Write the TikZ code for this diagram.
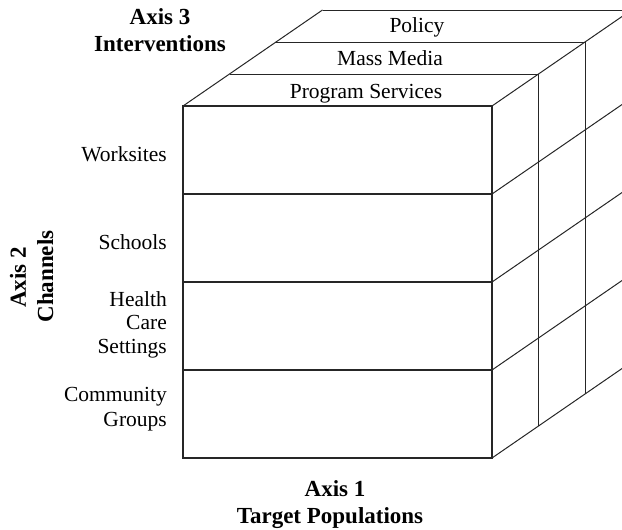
\documentclass[tikz,border=0pt]{standalone}
\usepackage{fontspec}
\setmainfont{Liberation Serif}
\begin{document}
\begin{tikzpicture}[x=1pt,y=-1pt,
  edge/.style={line width=1pt, black!85},
  lbl/.style={font=\fontsize{21.5}{24}\selectfont, inner sep=0pt},
  axislbl/.style={font=\fontsize{23}{26}\selectfont\bfseries, inner sep=0pt}]
\useasboundingbox (0,0) rectangle (622,530);
\begin{scope}
\clip (0,0) rectangle (622,530);
% front face
\draw[edge, line width=1.2pt] (183,106) rectangle (492,458);
\foreach \y in {194,282,370} \draw[edge, line width=1.2pt] (183,\y) -- (492,\y);
% top face: layer lines
\foreach \k in {1,2,3} \draw[edge] ({183+46.5*\k},{106-32*\k}) -- ({492+46.5*\k},{106-32*\k});
\draw[edge] (183,106) -- (322.5,10);
% right face: verticals
\foreach \k in {1,2,3} \draw[edge] ({492+46.5*\k},{106-32*\k}) -- ({492+46.5*\k},{458-32*\k});
% right face: depth lines
\foreach \y in {106,194,282,370,458} \draw[edge] (492,\y) -- (631.5,{\y-96});
\end{scope}
% top labels
\node[lbl, anchor=base] (policy) at (417,32) {Policy};
\node[lbl, anchor=base] (media) at (390,65) {Mass Media};
\node[lbl, anchor=base] (prog) at (366,98) {Program Services};
% left labels
\node[lbl, anchor=base east] (work) at (167,161) {Worksites};
\node[lbl, anchor=base east] (school) at (167,249) {Schools};
\node[lbl, anchor=base east] (health) at (167,306) {Health};
\node[lbl, anchor=base east] (care) at (167,329.5) {Care};
\node[lbl, anchor=base east] (sett) at (167,353) {Settings};
\node[lbl, anchor=base east] (comm) at (167,401) {Community};
\node[lbl, anchor=base east] (groups) at (167,426) {Groups};
% axis labels
\node[axislbl, anchor=base] (ax3a) at (160,24) {Axis 3};
\node[axislbl, anchor=base] (ax3b) at (160,52) {Interventions};
\node[axislbl, anchor=base] (ax1a) at (335,496) {Axis 1};
\node[axislbl, anchor=base] (ax1b) at (330,523) {Target Populations};
\node[axislbl, anchor=base, rotate=90] (ax2a) at (26,277.5) {Axis 2};
\node[axislbl, anchor=base, rotate=90] (ax2b) at (53,276.5) {Channels};
\end{tikzpicture}
\end{document}
